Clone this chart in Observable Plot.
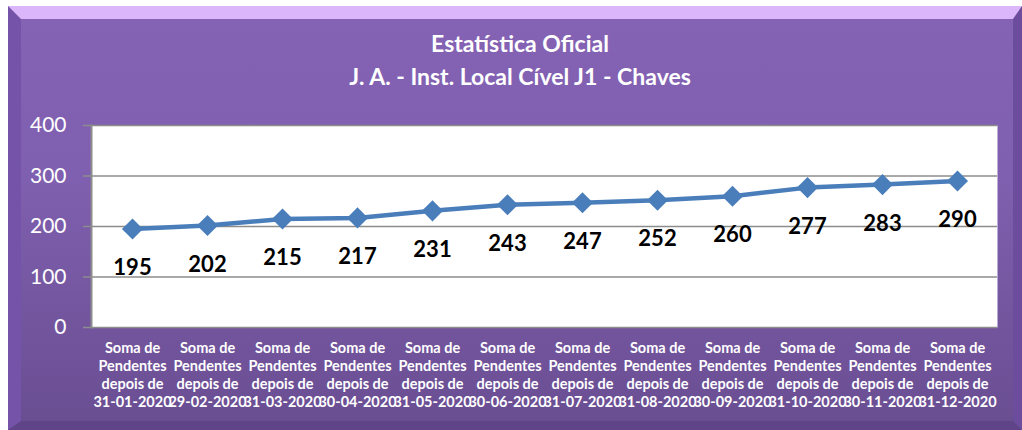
<!DOCTYPE html>
<html>
<head>
<meta charset="utf-8">
<script src="https://cdn.jsdelivr.net/npm/d3@7"></script>
<script src="https://cdn.jsdelivr.net/npm/@observablehq/plot@0.6"></script>
<style>
  html, body { margin: 0; padding: 0; background: #fff; }
  #wrap { position: relative; width: 1022px; height: 430px; overflow: hidden; font-family: Lato, "Open Sans", sans-serif; }
  #panel { position: absolute; left: 8px; top: 6px; width: 1014px; height: 424px; box-sizing: border-box;
    border-top: 13px solid #dcb6fb; border-left: 13px solid #7453a8; border-right: 9px solid #6c4c9c; border-bottom: 9px solid #5f4488;
    background: linear-gradient(#8462b4, #7f5faf 40%, #6a4e92); }
  #title { position: relative; height: 110px; color: #fff; font-weight: bold; font-size: 23px; text-align: center; }
  #title div { position: absolute; left: 0; width: 1040px; }
  #chart { position: relative; }
  #chart svg { display: block; background: transparent; }
</style>
</head>
<body>
<div id="wrap">
  <div id="panel"></div>
  <div id="title">
    <div style="top:29px">Estatística Oficial</div>
    <div style="top:62px">J. A. - Inst. Local Cível J1 - Chaves</div>
  </div>
  <div id="chart"></div>
</div>
<script>
const dates = ["31-01-2020","29-02-2020","31-03-2020","30-04-2020","31-05-2020","30-06-2020",
               "31-07-2020","31-08-2020","30-09-2020","31-10-2020","30-11-2020","31-12-2020"];
const pendentes = [195, 202, 215, 217, 231, 243, 247, 252, 260, 277, 283, 290];
const yTicks = [0, 100, 200, 300, 400];
const labelPrefix = "Soma de\nPendentes\ndepois de\n";

const data = dates.map((d, i) => ({cat: labelPrefix + d, value: pendentes[i]}));
const cats = data.map(d => d.cat);

const chart = Plot.plot({
  width: 1022,
  height: 320,
  marginTop: 15,
  marginBottom: 103,
  marginLeft: 91,
  marginRight: 25,
  style: {fontFamily: "Lato, 'Open Sans', sans-serif", background: "transparent"},
  x: {type: "point", domain: cats, padding: 0.5},
  y: {domain: [0, 400]},
  marks: [
    Plot.frame({fill: "white", stroke: null}),
    Plot.ruleY(yTicks, {stroke: "#8c8c8c", strokeWidth: 1.5}),
    Plot.frame({anchor: "left", stroke: "#8c8c8c", strokeWidth: 2}),
    Plot.axisY(yTicks, {tickSize: 8, tickPadding: 17, fontSize: 21, fill: "white", stroke: "#8c8c8c", strokeWidth: 1.5, label: null}),
    Plot.axisX({tickSize: 0, tickPadding: 13, fontSize: 14.5, fontWeight: "bold", fill: "white", lineHeight: 1.24, label: null, textAnchor: "middle"}),
    Plot.line(data, {x: "cat", y: "value", stroke: "#4a7ebb", strokeWidth: 4.5}),
    Plot.dot(data, {x: "cat", y: "value", symbol: "diamond2", r: 9.5, fill: "#4a7ebb", stroke: null}),
    Plot.text(data, {x: "cat", y: "value", text: d => String(d.value), dy: 39, fontSize: 22, fontWeight: "bold", fill: "black"})
  ]
});
document.getElementById("chart").appendChild(chart);
</script>
</body>
</html>
